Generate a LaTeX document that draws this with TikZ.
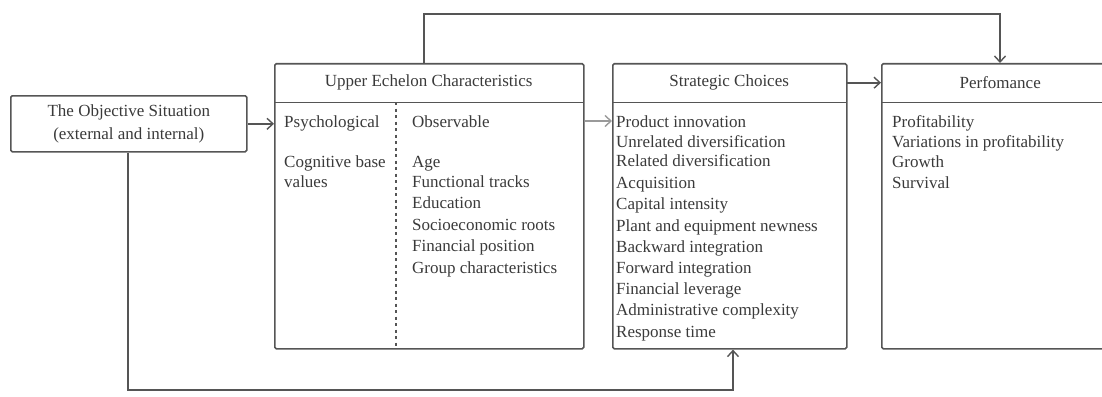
\documentclass[tikz,border=0pt]{standalone}
\usepackage{fontspec}
\setmainfont{Liberation Serif}
\usetikzlibrary{arrows.meta}
\definecolor{linegray}{HTML}{555555}
\definecolor{lightline}{HTML}{9A9A9A}
\definecolor{txtgray}{HTML}{3A3A3A}
\begin{document}
\begin{tikzpicture}[x=1pt,y=-1pt,
  box/.style={draw=linegray, line width=1.6pt, rounded corners=1.5pt, inner sep=0pt, anchor=north west},
  head/.style={inner sep=0pt, anchor=north west, minimum height=39pt, text=txtgray, font=\fontsize{17}{21}\selectfont},
  item/.style={inner sep=0pt, anchor=base west, text=txtgray, font=\fontsize{17}{21}\selectfont},
  sep/.style={draw=linegray, line width=1.6pt},
  conn/.style={draw=linegray, line width=1.6pt, -{Straight Barb[length=6pt,width=11pt,line width=1.4pt]}},
  lconn/.style={draw=lightline, line width=1.6pt, -{Straight Barb[length=6pt,width=11pt,line width=1.4pt]}},
  divider/.style={draw=linegray, line width=1.8pt, dash pattern=on 3pt off 3.5pt}
]
\useasboundingbox (0,0) rectangle (1102,396);

% Objective situation
\node[box, minimum width=236pt, minimum height=56pt, align=center, text=txtgray,
      font=\fontsize{17}{23}\selectfont] (obj) at (10,95)
  {The Objective Situation\\(external and internal)};

% Upper Echelon
\node[box, minimum width=309pt, minimum height=285pt] (upper) at (274,63) {};
\node[head, minimum width=309pt] (upperhead) at (274,63) {Upper Echelon Characteristics};
\draw[sep] (upperhead.south west) -- (upperhead.south east);
\coordinate (divtop) at (396,102);
\coordinate (divbot) at (396,347);
\draw[divider] (divtop) -- (divbot);
\node[item] (psy) at (284,127) {Psychological};
\node[item] (cog) at (284,167) {Cognitive base};
\node[item] (val) at (284,187) {values};
\node[item] (obs) at (412,127) {Observable};
\node[item] (age) at (412,167) {Age};
\node[item] (fun) at (412,187) {Functional tracks};
\node[item] (edu) at (412,208) {Education};
\node[item] (soc) at (412,230) {Socioeconomic roots};
\node[item] (fin) at (412,251) {Financial position};
\node[item] (grp) at (412,273) {Group characteristics};

% Strategic choices
\node[box, minimum width=234pt, minimum height=285pt] (strat) at (612,63) {};
\node[head, minimum width=234pt] (strathead) at (612,63) {Strategic Choices};
\draw[sep] (strathead.south west) -- (strathead.south east);
\node[item] (s1) at (616,127) {Product innovation};
\node[item] (s2) at (616,147) {Unrelated diversification};
\node[item] (s3) at (616,166) {Related diversification};
\node[item] (s4) at (616,188) {Acquisition};
\node[item] (s5) at (616,209) {Capital intensity};
\node[item] (s6) at (616,231) {Plant and equipment newness};
\node[item] (s7) at (616,252) {Backward integration};
\node[item] (s8) at (616,273) {Forward integration};
\node[item] (s9) at (616,294) {Financial leverage};
\node[item] (s10) at (616,315) {Administrative complexity};
\node[item] (s11) at (616,337) {Response time};

% Performance
\node[box, minimum width=238pt, minimum height=285pt] (perf) at (881,63) {};
\node[head, minimum width=238pt] (perfhead) at (881,63) {Perfomance};
\draw[sep] (perfhead.south west) -- (perfhead.south east);
\node[item] (p1) at (892,127) {Profitability};
\node[item] (p2) at (892,147) {Variations in profitability};
\node[item] (p3) at (892,167) {Growth};
\node[item] (p4) at (892,188) {Survival};

% Connectors
\draw[conn] (obj.east) -- (upper.west |- obj.east);
\draw[lconn] (upper.east |- 0,121) -- (strat.west |- 0,121);
\draw[conn] (strathead.east) -- (perfhead.west);
\coordinate (topleft) at (424,14);
\coordinate (topright) at (1000,14);
\draw[conn] (upper.north -| topleft) -- (topleft) -- (topright) -- (perf.north -| topright);
\coordinate (botleft) at (128,390);
\coordinate (botright) at (733,390);
\draw[conn] (obj.south -| botleft) -- (botleft) -- (botright) -- (strat.south -| botright);
\end{tikzpicture}
\end{document}
